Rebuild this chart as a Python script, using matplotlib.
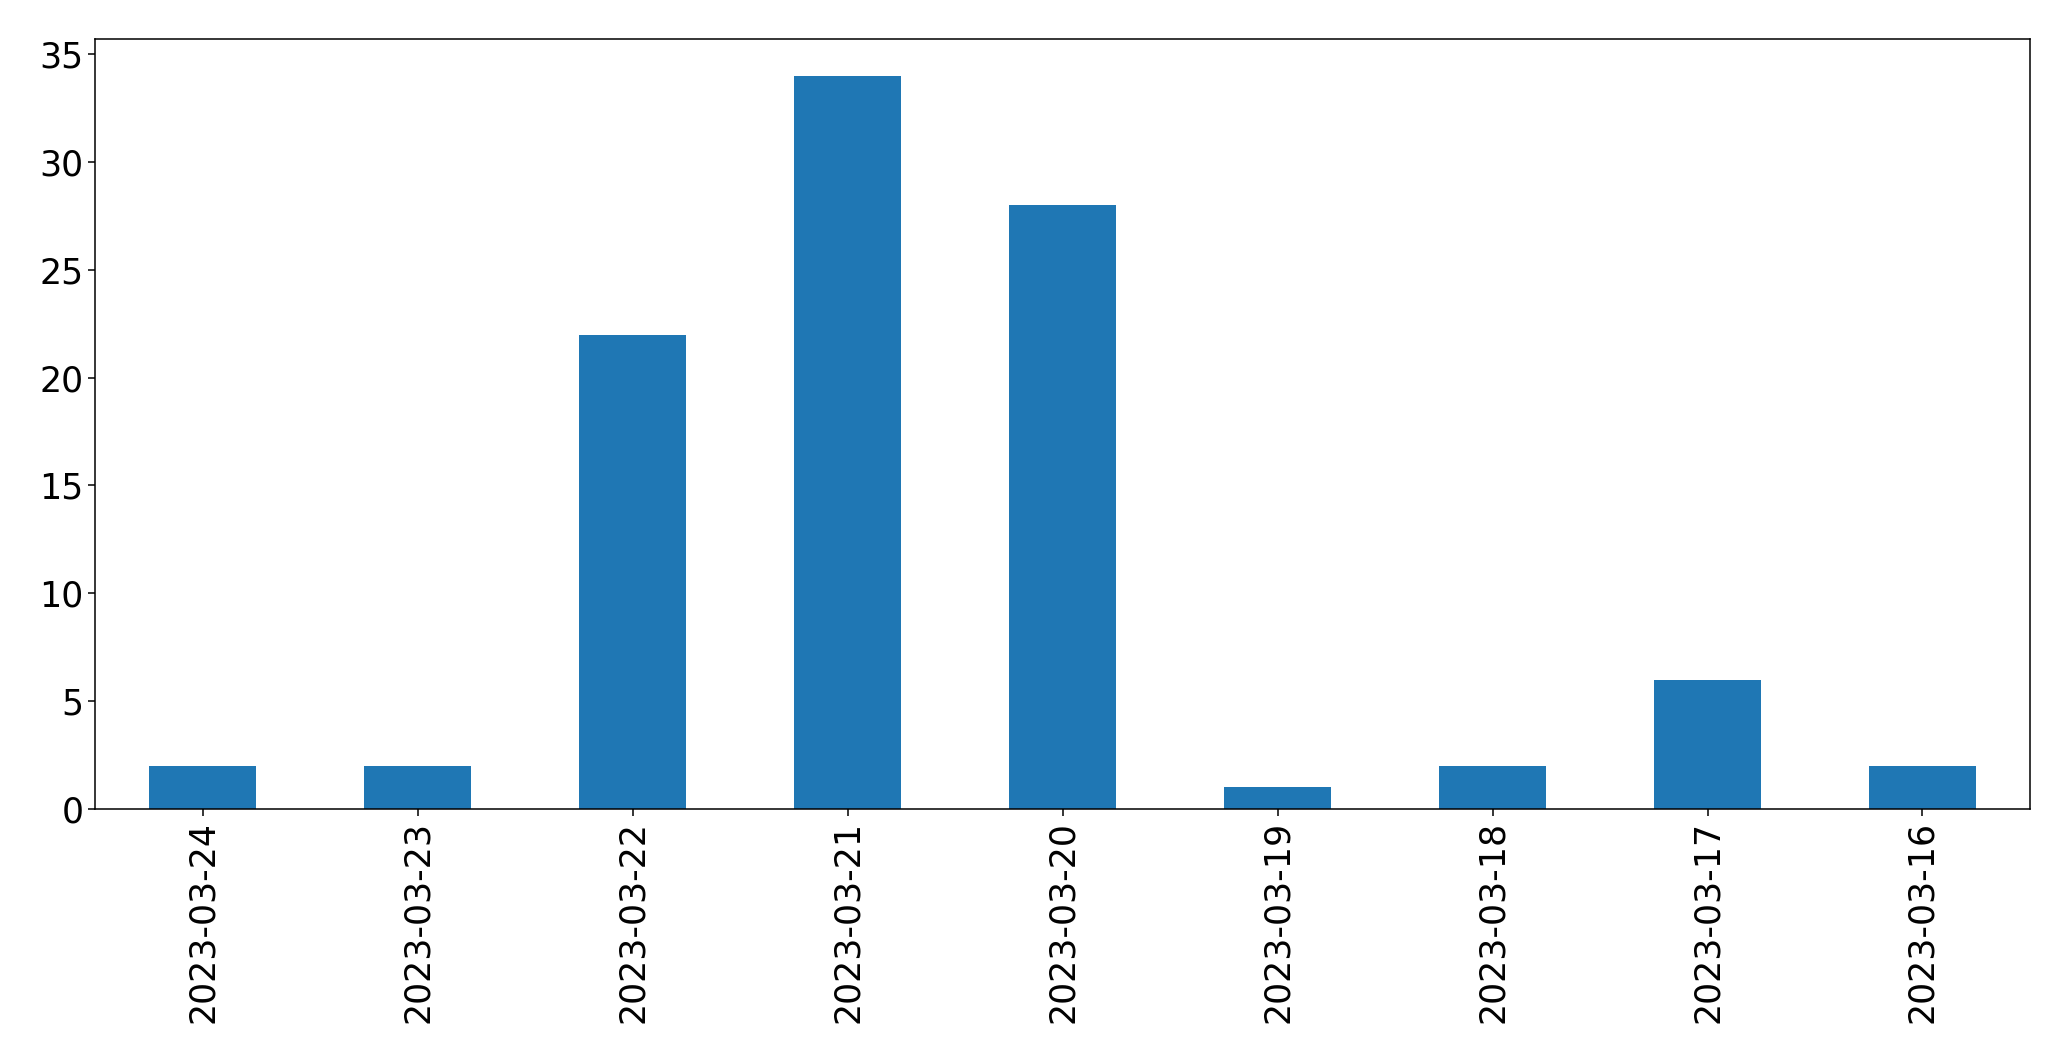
import matplotlib
matplotlib.use("Agg")
import matplotlib.pyplot as plt
import pandas as pd

dates = ["2023-03-24", "2023-03-23", "2023-03-22", "2023-03-21", "2023-03-20",
         "2023-03-19", "2023-03-18", "2023-03-17", "2023-03-16"]
counts = [2, 2, 22, 34, 28, 1, 2, 6, 2]

s = pd.Series(counts, index=dates)

fig = plt.figure(figsize=(20.71, 10.61), dpi=100)
ax = fig.add_axes([0.0459, 0.2375, 0.9343, 0.7257])
s.plot(kind="bar", ax=ax, color="#1f77b4")

ax.tick_params(axis="both", labelsize=25, length=5, width=1.1)
for sp in ax.spines.values():
    sp.set_linewidth(1.1)

fig.savefig("out.png", dpi=100)
